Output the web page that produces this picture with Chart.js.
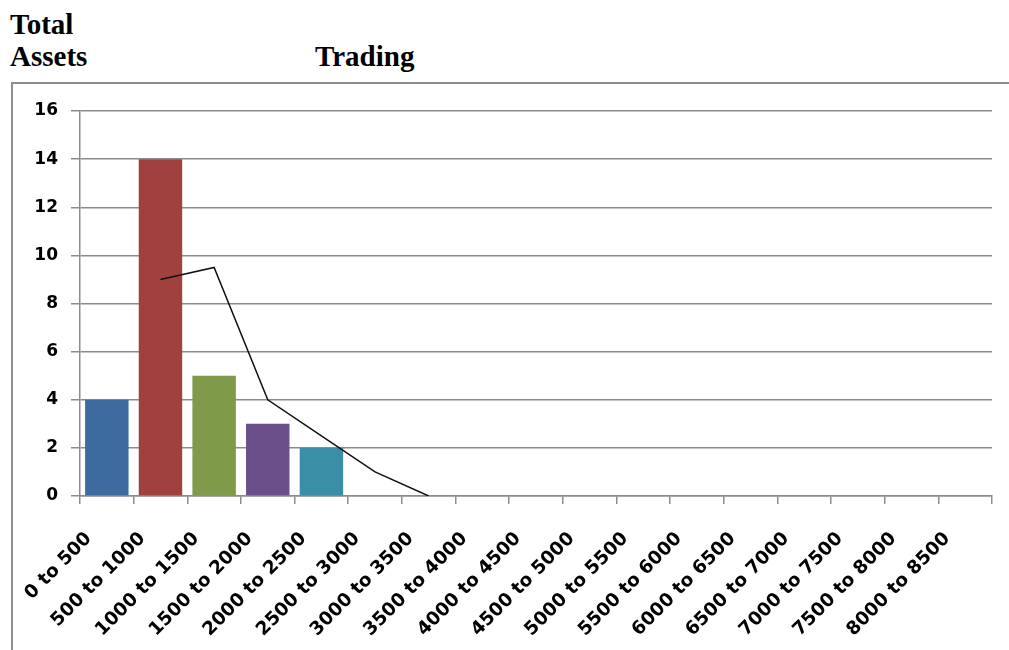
<!DOCTYPE html>
<html>
<head>
<meta charset="utf-8">
<script src="https://cdn.jsdelivr.net/npm/chart.js@4"></script>
<style>
  html, body { margin: 0; padding: 0; background: #fff; overflow: hidden; }
  #wrap { position: relative; width: 1009px; height: 650px; }
  .head { position: absolute; font: bold 29px "Liberation Serif", "Times New Roman", serif; line-height: 32px; color: #000; }
  #frame { position: absolute; left: 11px; top: 82px; width: 1100px; height: 700px; border-left: 2px solid #8e8e8e; border-top: 2px solid #8e8e8e; }
  canvas { position: absolute; left: 0; top: 0; }
</style>
</head>
<body>
<div id="wrap">
  <div class="head" style="left:10px;top:8px">Total</div>
  <div class="head" style="left:10px;top:40px">Assets</div>
  <div class="head" style="left:315px;top:40px">Trading</div>
  <div id="frame"></div>
  <canvas id="chart" width="1009" height="650"></canvas>
</div>
<script>
// Bandas de activos totales
const categories = ['0 to 500', '500 to 1000', '1000 to 1500', '1500 to 2000', '2000 to 2500',
  '2500 to 3000', '3000 to 3500', '3500 to 4000', '4000 to 4500', '4500 to 5000', '5000 to 5500',
  '5500 to 6000', '6000 to 6500', '6500 to 7000', '7000 to 7500', '7500 to 8000', '8000 to 8500'];
const counts = [4, 14, 5, 3, 2, 0, 0, 0, 0, 0, 0, 0, 0, 0, 0, 0, 0];
// línea de tendencia (media móvil de 2 periodos)
const trend = [null, 9, 9.5, 4, 2.5, 1, 0, null, null, null, null, null, null, null, null, null, null];
const barColors = ['#3e6b9f', '#a0413e', '#7f9b49', '#6a4f8a', '#3a8fa6'];
const yTicks = [0, 2, 4, 6, 8, 10, 12, 14, 16];

const yFont = { family: 'DejaVu Sans', size: 17, weight: 'bold' };
const xFont = { family: 'DejaVu Sans', size: 18.5, weight: 'bold' };

new Chart(document.getElementById('chart').getContext('2d'), {
  data: {
    labels: categories,
    datasets: [
      {
        type: 'line',
        data: trend,
        borderColor: '#111',
        borderWidth: 1.5,
        pointRadius: 0,
        tension: 0,
        order: 0
      },
      {
        type: 'bar',
        data: counts,
        backgroundColor: barColors,
        borderWidth: 0,
        barPercentage: 0.81,
        categoryPercentage: 1,
        order: 1
      }
    ]
  },
  options: {
    responsive: false,
    animation: false,
    layout: { padding: { top: 111, right: 17, left: 0, bottom: 0 } },
    plugins: { legend: { display: false }, tooltip: { enabled: false } },
    scales: {
      x: {
        afterFit: (s) => { s.height = 154; },
        grid: { offset: true, drawOnChartArea: false, drawTicks: true, tickLength: 8, color: '#8c8c8c', lineWidth: 1.5 },
        border: { color: '#8c8c8c', width: 1.5 },
        ticks: {
          font: xFont, color: '#000', minRotation: 45, maxRotation: 45,
          autoSkip: false, labelOffset: -18, padding: 24
        }
      },
      y: {
        min: 0, max: 16,
        afterFit: (s) => { s.width = 80; },
        afterBuildTicks: (s) => { s.ticks = yTicks.map(v => ({ value: v })); },
        grid: { color: '#8c8c8c', lineWidth: 1.5, tickLength: 9 },
        border: { color: '#8c8c8c', width: 1.5 },
        ticks: { font: yFont, color: '#000', padding: 13 }
      }
    }
  }
});
</script>
</body>
</html>
